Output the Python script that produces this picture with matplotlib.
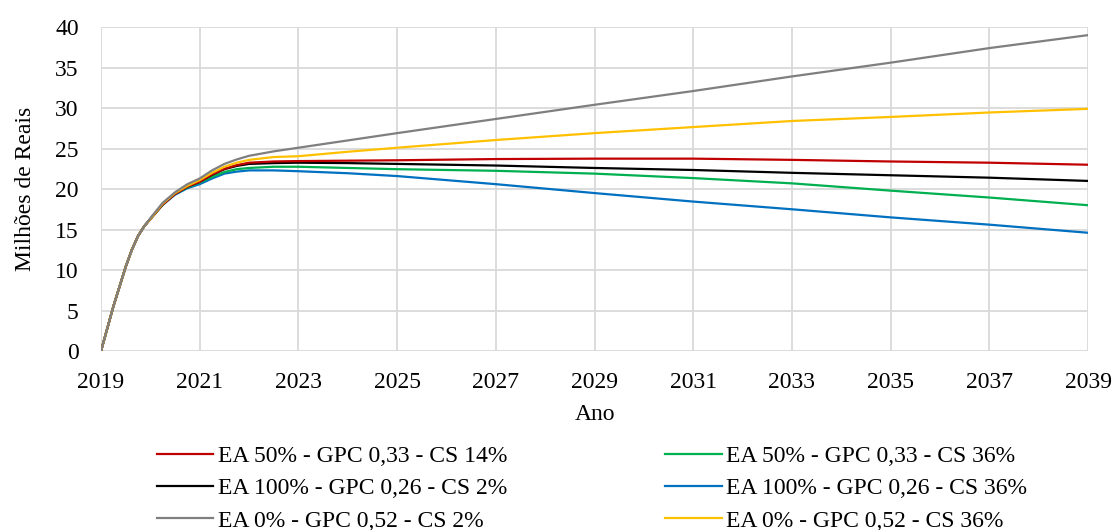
import matplotlib.pyplot as plt

# time axis (years); denser points where the curves bend
anos = [2019, 2019.25, 2019.5, 2019.625, 2019.75, 2019.875, 2020, 2020.25,
        2020.5, 2020.75, 2021, 2021.25, 2021.5, 2021.75, 2022, 2022.5, 2023,
        2024, 2025, 2027, 2029, 2031, 2033, 2035, 2037, 2039]

ea50_cs14 = [0, 5.5, 10.4, 12.5, 14.2, 15.4, 16.3, 18.1,
             19.4, 20.3, 20.9, 21.8, 22.5, 22.95, 23.25, 23.4, 23.45,
             23.5, 23.55, 23.7, 23.75, 23.75, 23.6, 23.4, 23.25, 23.0]
ea50_cs36 = [0, 5.5, 10.4, 12.5, 14.2, 15.4, 16.3, 18.1,
             19.4, 20.2, 20.8, 21.5, 22.1, 22.45, 22.6, 22.75, 22.75,
             22.6, 22.45, 22.25, 21.9, 21.35, 20.7, 19.8, 18.95, 18.0]
ea100_cs2 = [0, 5.5, 10.4, 12.5, 14.2, 15.4, 16.3, 18.1,
             19.4, 20.3, 20.9, 21.75, 22.45, 22.85, 23.1, 23.2, 23.25,
             23.2, 23.1, 22.9, 22.6, 22.35, 22.0, 21.7, 21.4, 21.0]
ea100_cs36 = [0, 5.5, 10.4, 12.5, 14.2, 15.4, 16.3, 18.05,
              19.3, 20.1, 20.6, 21.3, 21.9, 22.15, 22.3, 22.3, 22.2,
              21.95, 21.6, 20.6, 19.5, 18.45, 17.5, 16.5, 15.6, 14.6]
ea0_cs2 = [0, 5.5, 10.4, 12.5, 14.2, 15.4, 16.4, 18.3,
           19.6, 20.6, 21.3, 22.3, 23.1, 23.65, 24.1, 24.65, 25.1,
           26.0, 26.9, 28.65, 30.4, 32.1, 33.9, 35.6, 37.4, 39.0]
ea0_cs36 = [0, 5.5, 10.4, 12.5, 14.2, 15.4, 16.3, 18.2,
            19.5, 20.4, 21.1, 22.0, 22.75, 23.25, 23.6, 23.95, 24.05,
            24.6, 25.1, 26.05, 26.9, 27.65, 28.4, 28.9, 29.45, 29.9]

series = [
    (ea50_cs14, '#C00000', 'EA 50% - GPC 0,33 - CS 14%'),
    (ea50_cs36, '#00B050', 'EA 50% - GPC 0,33 - CS 36%'),
    (ea100_cs2, '#000000', 'EA 100% - GPC 0,26 - CS 2%'),
    (ea100_cs36, '#0070C0', 'EA 100% - GPC 0,26 - CS 36%'),
    (ea0_cs2, '#7F7F7F', 'EA 0% - GPC 0,52 - CS 2%'),
    (ea0_cs36, '#FFC000', 'EA 0% - GPC 0,52 - CS 36%'),
]

plt.rcParams['font.family'] = ['Liberation Serif', 'DejaVu Serif']

fig = plt.figure(figsize=(11.15, 5.3), dpi=100)
ax = fig.add_axes([0.0906, 0.3377, 0.8852, 0.6113])

# draw order: blue at the bottom, gray/yellow on top like the original
order = [3, 1, 2, 0, 5, 4]
for z, i in enumerate(order):
    vals, cor, nome = series[i]
    ax.plot(anos, vals, color=cor, lw=1.6, label=nome, zorder=3 + z,
            solid_joinstyle='round')

ax.set_xlim(2019, 2039)
ax.set_ylim(0, 40)
ax.set_xticks(range(2019, 2040, 2))
ax.set_yticks(range(0, 41, 5))
ax.grid(True, color='#D9D9D9', lw=1.3)
for s in ax.spines.values():
    s.set_visible(False)
ax.tick_params(length=0, labelsize=17)
ax.tick_params(axis='x', pad=15)
ax.tick_params(axis='y', pad=16)
ax.set_xlabel('Ano', fontsize=17, labelpad=8)
ax.set_ylabel('Milhões de Reais', fontsize=17, labelpad=14)

handles, labels = ax.get_legend_handles_labels()
lookup = dict(zip(labels, handles))
leg_order = [series[k][2] for k in [0, 2, 4, 1, 3, 5]]
fig.legend([lookup[l] for l in leg_order], leg_order, ncol=2, frameon=False,
           fontsize=17, loc='center', bbox_to_anchor=(0.531, 0.078),
           handlelength=2.4, handletextpad=0.2, columnspacing=6.67,
           labelspacing=0.45)

fig.savefig('out.png', dpi=100)
